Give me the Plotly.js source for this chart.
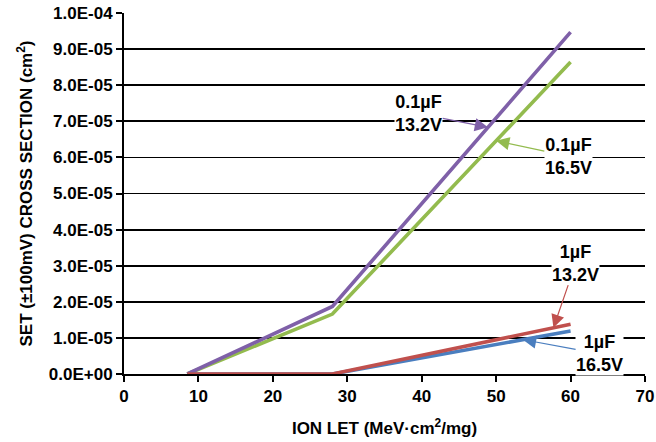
<!DOCTYPE html>
<html>
<head>
<meta charset="utf-8">
<script src="https://cdn.plot.ly/plotly-3.0.1.min.js"></script>
<style>
  html, body { margin: 0; padding: 0; background: #fff; }
  #chart { width: 656px; height: 442px; }
</style>
</head>
<body>
<div id="chart"></div>
<script>
// Ion LET (MeV·cm²/mg) at which the cross section was evaluated
const ionLet = [8.5, 28, 60];

// SET (±100mV) cross section (cm²) for each capacitor / supply combination
const cap01uF_132V = [0, 1.87e-5, 9.47e-5];
const cap01uF_165V = [0, 1.66e-5, 8.64e-5];
const cap1uF_132V  = [0, 0, 1.38e-5];
const cap1uF_165V  = [0, 0, 1.19e-5];

const seriesLabels = ['0.1µF<br>13.2V', '0.1µF<br>16.5V', '1µF<br>13.2V', '1µF<br>16.5V'];

// Axis ticks
const xTicks = [0, 10, 20, 30, 40, 50, 60, 70];
const yTickVals = [0, 1e-5, 2e-5, 3e-5, 4e-5, 5e-5, 6e-5, 7e-5, 8e-5, 9e-5, 1e-4];
const yTickText = ['0.0E+00', '1.0E-05', '2.0E-05', '3.0E-05', '4.0E-05', '5.0E-05',
                   '6.0E-05', '7.0E-05', '8.0E-05', '9.0E-05', '1.0E-04'];

const COLORS = {
  purple: '#7f60a8',
  green:  '#93bb4e',
  red:    '#c0504d',
  blue:   '#4a7ebf'
};

const FONT = '"Liberation Sans", Arial, Helvetica, sans-serif';

// Linear interpolation along a series, used to land arrow tips on the lines
function valueAt(xs, ys, x) {
  for (let i = 0; i < xs.length - 1; i++) {
    if (x >= xs[i] && x <= xs[i + 1]) {
      const t = (x - xs[i]) / (xs[i + 1] - xs[i]);
      return ys[i] + t * (ys[i + 1] - ys[i]);
    }
  }
  return ys[ys.length - 1];
}

function line(ys, color) {
  return {
    x: ionLet, y: ys, type: 'scatter', mode: 'lines',
    line: { color: color, width: 3.6 },
    hoverinfo: 'skip', showlegend: false
  };
}

const traces = [
  line(cap01uF_165V, COLORS.green),
  line(cap01uF_132V, COLORS.purple),
  line(cap1uF_165V, COLORS.blue),
  line(cap1uF_132V, COLORS.red)
];

// Callout: label box centred at (textX, textY), arrow pointing to the series at tipX
function callout(text, color, ys, tipX, textX, textY) {
  return {
    text: text, align: 'center', bgcolor: '#ffffff', borderpad: 0,
    font: { family: FONT, size: 18, color: '#000', weight: 'bold' },
    x: tipX, y: valueAt(ionLet, ys, tipX), xref: 'x', yref: 'y',
    ax: textX, ay: textY, axref: 'x', ayref: 'y',
    showarrow: true, arrowhead: 2, arrowsize: 2.2, arrowwidth: 1.2,
    arrowcolor: color, standoff: 0, startstandoff: 0
  };
}

const annotations = [
  callout(seriesLabels[0], COLORS.purple, cap01uF_132V, 48.9, 39.6, 7.21e-5),
  callout(seriesLabels[1], COLORS.green,  cap01uF_165V, 50.0, 59.7, 6.03e-5),
  callout(seriesLabels[2], COLORS.red,    cap1uF_132V,  57.7, 60.7, 3.07e-5),
  callout(seriesLabels[3], COLORS.blue,   cap1uF_165V,  53.6, 63.9, 0.56e-5)
];

const layout = {
  width: 656, height: 442,
  margin: { l: 124, r: 11, t: 13, b: 68 },
  paper_bgcolor: '#fff', plot_bgcolor: '#fff',
  font: { family: FONT, color: '#000', size: 17, weight: 'bold' },
  showlegend: false,
  xaxis: {
    range: [0, 70], tickvals: xTicks, ticktext: xTicks.map(String),
    showgrid: false, zeroline: false,
    showline: true, linecolor: '#000', linewidth: 2,
    ticks: 'outside', ticklen: 6, tickwidth: 2, tickcolor: '#000',
    tickfont: { family: FONT, size: 17, color: '#000', weight: 'bold' },
    title: {
      text: 'ION LET (MeV·cm<sup>2</sup>/mg)', standoff: 17,
      font: { family: FONT, size: 17, color: '#000', weight: 'bold' }
    }
  },
  yaxis: {
    range: [0, 1.0e-4], tickvals: yTickVals, ticktext: yTickText,
    showgrid: true, gridcolor: '#000', gridwidth: 1.8, zeroline: false,
    showline: true, linecolor: '#000', linewidth: 2,
    ticks: 'outside', ticklen: 6, tickwidth: 2, tickcolor: '#000',
    tickfont: { family: FONT, size: 17, color: '#000', weight: 'bold' },
    title: {
      text: 'SET (±100mV) CROSS SECTION (cm<sup>2</sup>)', standoff: 12,
      font: { family: FONT, size: 17, color: '#000', weight: 'bold' }
    }
  },
  annotations: annotations
};

Plotly.newPlot('chart', traces, layout, { staticPlot: true, displayModeBar: false });
</script>
</body>
</html>
